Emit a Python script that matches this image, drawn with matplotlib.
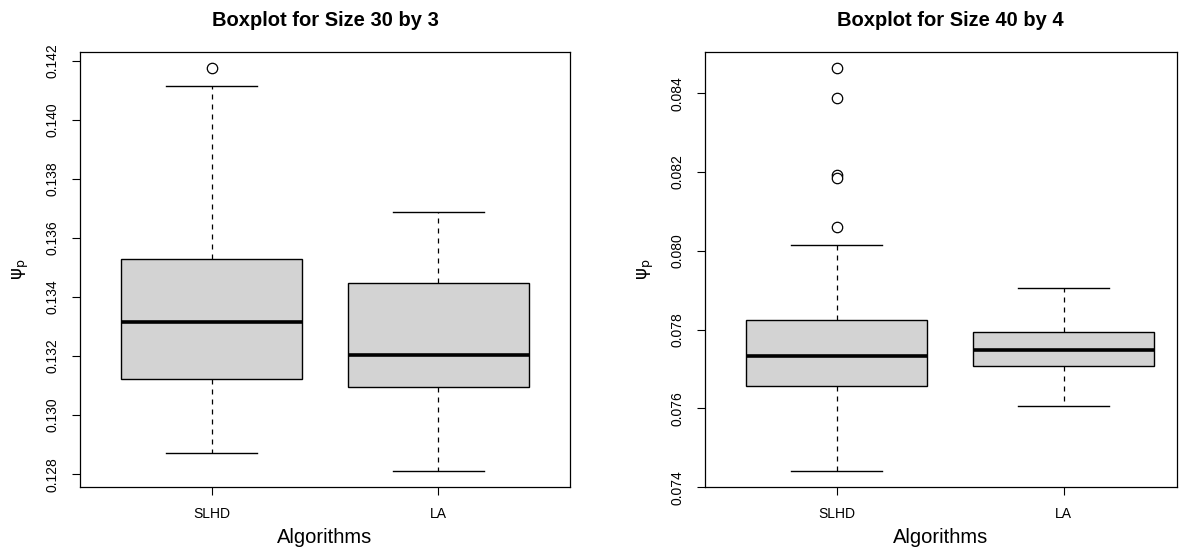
import matplotlib
matplotlib.use("Agg")
import matplotlib.pyplot as plt
import numpy as np

plt.rcParams['font.family'] = ['Liberation Sans', 'DejaVu Sans']
plt.rcParams['mathtext.fontset'] = 'dejavusans'

algorithms = ["SLHD", "LA"]

# Size 30 by 3
left_whislo = [0.12871, 0.12810]
left_q1 = [0.13122, 0.13095]
left_med = [0.13315, 0.13203]
left_q3 = [0.13529, 0.13447]
left_whishi = [0.14115, 0.13688]
left_fliers = [[0.14175], []]
left_ticks = [0.128, 0.130, 0.132, 0.134, 0.136, 0.138, 0.140, 0.142]

# Size 40 by 4
right_whislo = [0.07441, 0.07607]
right_q1 = [0.07658, 0.07708]
right_med = [0.07732, 0.07749]
right_q3 = [0.07825, 0.07795]
right_whishi = [0.08016, 0.07906]
right_fliers = [[0.08463, 0.08387, 0.08192, 0.08185, 0.08061], []]
right_ticks = [0.074, 0.076, 0.078, 0.080, 0.082, 0.084]


def draw_panel(ax, title, whislo, q1, med, q3, whishi, fliers, ticks, title_x=0.5):
    stats = []
    for i in range(len(algorithms)):
        stats.append(dict(label=algorithms[i], whislo=whislo[i], q1=q1[i], med=med[i],
                          q3=q3[i], whishi=whishi[i], fliers=fliers[i]))
    ax.bxp(stats, positions=[1, 2], widths=0.8, patch_artist=True,
           boxprops=dict(facecolor='#D3D3D3', edgecolor='black', linewidth=1.0),
           medianprops=dict(color='black', linewidth=2.6, solid_capstyle='butt'),
           whiskerprops=dict(color='black', linewidth=0.9, linestyle=(0, (4, 4))),
           capprops=dict(color='black', linewidth=1.0),
           capwidths=0.4,
           flierprops=dict(marker='o', markerfacecolor='white', markeredgecolor='black',
                           markersize=7.5, markeredgewidth=0.9))
    vals = whislo + whishi + [v for f in fliers for v in f]
    lo, hi = min(vals), max(vals)
    pad = 0.04 * (hi - lo)
    ax.set_ylim(lo - pad, hi + pad)
    ax.set_yticks(ticks)
    ax.set_yticklabels(["%.3f" % t for t in ticks], rotation=90, va='center', fontsize=10)
    ax.set_xticks([1, 2])
    ax.set_xticklabels(algorithms, fontsize=10)
    ax.tick_params(axis='both', direction='out', length=6, width=0.8)
    ax.tick_params(axis='y', pad=9)
    ax.tick_params(axis='x', pad=8)
    for s in ax.spines.values():
        s.set_linewidth(0.9)
    ax.set_title(title, fontsize=14.5, fontweight='bold', pad=19, x=title_x)
    ax.set_xlabel("Algorithms", fontsize=14.5, labelpad=5)
    ax.set_ylabel(r'$\mathrm{\psi}_\mathrm{p}$', fontsize=13, labelpad=10)


fig = plt.figure(figsize=(11.83, 5.6), dpi=100)
ax1 = fig.add_axes([80 / 1183, 72.7 / 560, 490 / 1183, 435 / 560])
ax2 = fig.add_axes([705 / 1183, 72.7 / 560, 472 / 1183, 435 / 560])

draw_panel(ax1, "Boxplot for Size 30 by 3", left_whislo, left_q1, left_med,
           left_q3, left_whishi, left_fliers, left_ticks)
ax1.set_xlim(0.42, 2.58)
draw_panel(ax2, "Boxplot for Size 40 by 4", right_whislo, right_q1, right_med,
           right_q3, right_whishi, right_fliers, right_ticks, title_x=245 / 472)
ax2.set_xlim(0.42, 2.58 - 18 / 225)

fig.savefig("out.png", dpi=100)
